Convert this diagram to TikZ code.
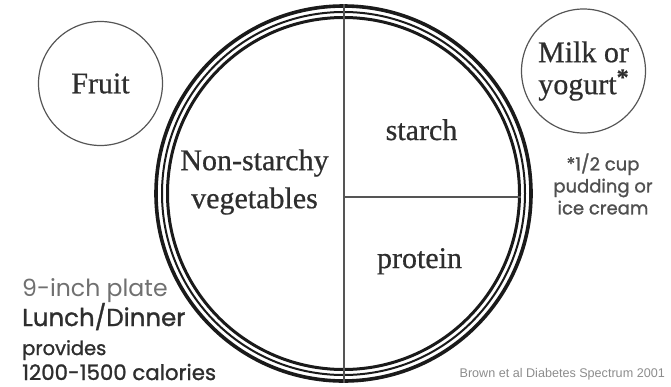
\documentclass[tikz,border=0pt]{standalone}
\usepackage{fontspec}
\setmainfont{Liberation Serif}[FakeBold=0.6]
\setsansfont{Poppins}
\newfontfamily\heavysans{Poppins}[FakeBold=1.2]
\newfontfamily\creditfont{Liberation Sans}
\usetikzlibrary{positioning}
\definecolor{plateInk}{HTML}{1A1A1A}
\definecolor{plateGray}{HTML}{555555}
\definecolor{textInk}{HTML}{2E2E2E}
\definecolor{noteGray}{HTML}{505050}
\definecolor{sizeGray}{HTML}{707070}
\definecolor{creditGray}{HTML}{8C8C8C}

\begin{document}
\begin{tikzpicture}[x=1pt,y=-1pt,
    every node/.style={font=\fontsize{30}{38}\selectfont,text=textInk,inner sep=0pt},
    sidedish/.style={circle,draw=plateGray,line width=1.2pt,minimum size=124pt,align=center},
    rimline/.style={circle,draw=plateInk,minimum size=#1}]
  \useasboundingbox (0,0) rectangle (671,386);
  % plate: three rim lines and the dividers
  \node[rimline=375pt,line width=3.6pt] (plate) at (343.5,193.5) {};
  \node[rimline=363pt,line width=2pt] (rimmid) at (plate.center) {};
  \node[rimline=352pt,line width=3pt] (rim) at (plate.center) {};
  \coordinate (split) at (343.5,197);
  \draw[plateGray,line width=2pt] (plate.north) -- (plate.south);
  \draw[plateGray,line width=2pt] (split) -- (split -| rim.east);
  % food groups
  \node[align=center] (veg) at (254.5,182) {Non-starchy\\vegetables};
  \node[anchor=base] (starch) at (421.5,140) {starch};
  \node[anchor=base] (protein) at (419.5,268) {protein};
  \node[sidedish] (fruit) at (100.5,83.5) {Fruit};
  \node[sidedish,font=\fontsize{30}{32}\selectfont] (milk) at (583.5,71) {Milk or\\yogurt\raisebox{9pt}{\fontsize{24}{24}\selectfont\bfseries *}};
  \node[font=\heavysans\fontsize{18}{22}\selectfont,text=noteGray,align=center] (note) at (603,184) {*1/2 cup\\pudding or\\ice cream};
  % meal notes
  \node[anchor=base west,font=\sffamily\fontsize{23.6}{26}\selectfont,text=sizeGray] (size) at (22,296) {9-inch plate};
  \node[anchor=base west,font=\heavysans\fontsize{24.5}{26}\selectfont] (meal) at (22,326) {Lunch/Dinner};
  \node[anchor=base west,font=\heavysans\fontsize{19.5}{22}\selectfont] (gives) at (22,355) {provides};
  \node[anchor=base west,font=\heavysans\fontsize{21.3}{24}\selectfont] (cal) at (22,380) {1200-1500 calories};
  \node[anchor=base east,font=\creditfont\fontsize{12.6}{14}\selectfont,text=creditGray] (credit) at (665,377) {Brown et al Diabetes Spectrum 2001};
\end{tikzpicture}
\end{document}
